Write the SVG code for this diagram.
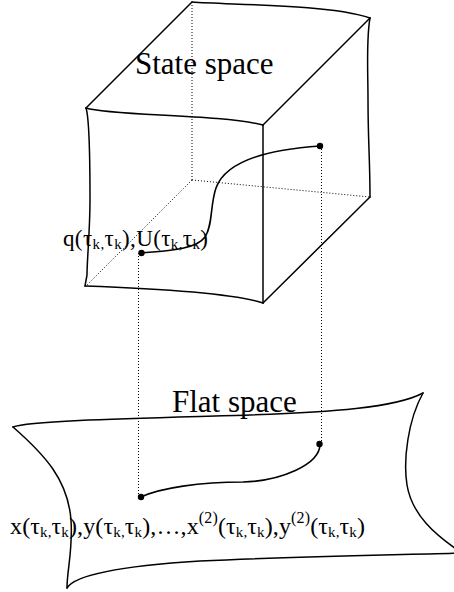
<svg xmlns="http://www.w3.org/2000/svg" width="454" height="592" viewBox="0 0 454 592">
<style>
.edge{fill:none;stroke:#000;stroke-width:1.5;stroke-linejoin:round;stroke-linecap:round}
.hidden{fill:none;stroke:#000;stroke-width:1;stroke-dasharray:1 2}
.path{fill:none;stroke:#000;stroke-width:1.6}
.dot{fill:#000}
text{font-family:"Liberation Serif","Times New Roman",serif;fill:#000}
.title{font-size:31px}
.lbl{font-size:23px}
.lbl2{font-size:24px}
.sub{font-size:15px}
.sup{font-size:16px}
</style>
<rect width="454" height="592" fill="#fff"/>
<g id="state-space">
  <path class="hidden" d="M192,2 L192,180 M192,180 L370,197 M192,180 L86,286"/>
  <path class="edge" d="M192,2 C230,5 330,4 370,18"/>
  <path class="edge" d="M192,2 L86,108"/>
  <path class="edge" d="M370,18 L263,125"/>
  <path class="edge" d="M86,108 C110,116 220,114 263,125"/>
  <path class="edge" d="M86,108 C90,120 90,180 90,200 C90,230 87,260 87,275 L85,286"/>
  <path class="edge" d="M370,18 C366,40 368,70 368,100 C368,140 370,160 370,197"/>
  <path class="edge" d="M263,125 L263,303"/>
  <path class="edge" d="M370,197 L263,303"/>
  <path class="edge" d="M85,286 C140,288 230,292 263,303"/>
  <text class="title" x="135" y="74">State space</text>
</g>
<g id="flat-space">
  <path class="edge" d="M13,427 C30,420 150,418 250,415 C330,412 395,408 423,393"/>
  <path class="edge" d="M13,427 C45,455 68,480 71,520 C73,550 67,570 67,588"/>
  <path class="edge" d="M67,588 C75,575 120,566 200,561 C300,556 400,555 462,553"/>
  <path class="edge" d="M423,393 C408,420 403,460 407,485 C412,515 435,535 462,553"/>
  <text class="title" x="172" y="412">Flat space</text>
</g>
<g id="connectors">
  <path class="hidden" d="M138.5,253 L138.5,497"/>
  <path class="hidden" d="M321.5,146 L321.5,444"/>
  <path class="path" d="M142,253 C160,251 195,251 205,237 C213,225 210,205 216,188 C225,163 260,150 320,146"/>
  <path class="path" d="M141,497 C160,488 200,482 243,482 C280,481 320,465 320,444"/>
</g>
<g id="state-trajectory">
  <circle class="dot" cx="141.5" cy="253" r="3.2"/>
  <circle class="dot" cx="320" cy="146" r="3.2"/>
  <text class="lbl" x="63" y="246" textLength="145">q(τ<tspan class="sub" dy="3">k,</tspan><tspan dy="-3">τ</tspan><tspan class="sub" dy="3">k</tspan><tspan dy="-3">),U(τ</tspan><tspan class="sub" dy="3">k,</tspan><tspan dy="-3">τ</tspan><tspan class="sub" dy="3">k</tspan><tspan dy="-3">)</tspan></text>
</g>
<g id="flat-trajectory">
  <circle class="dot" cx="141" cy="497" r="3.2"/>
  <circle class="dot" cx="319.5" cy="444" r="3.2"/>
  <text class="lbl2" x="10" y="534" textLength="355">x(τ<tspan class="sub" dy="3">k,</tspan><tspan dy="-3">τ</tspan><tspan class="sub" dy="3">k</tspan><tspan dy="-3">),y(τ</tspan><tspan class="sub" dy="3">k,</tspan><tspan dy="-3">τ</tspan><tspan class="sub" dy="3">k</tspan><tspan dy="-3">),…,x</tspan><tspan class="sup" dy="-11">(2)</tspan><tspan dy="11">(τ</tspan><tspan class="sub" dy="3">k,</tspan><tspan dy="-3">τ</tspan><tspan class="sub" dy="3">k</tspan><tspan dy="-3">),y</tspan><tspan class="sup" dy="-11">(2)</tspan><tspan dy="11">(τ</tspan><tspan class="sub" dy="3">k,</tspan><tspan dy="-3">τ</tspan><tspan class="sub" dy="3">k</tspan><tspan dy="-3">)</tspan></text>
</g>
</svg>
